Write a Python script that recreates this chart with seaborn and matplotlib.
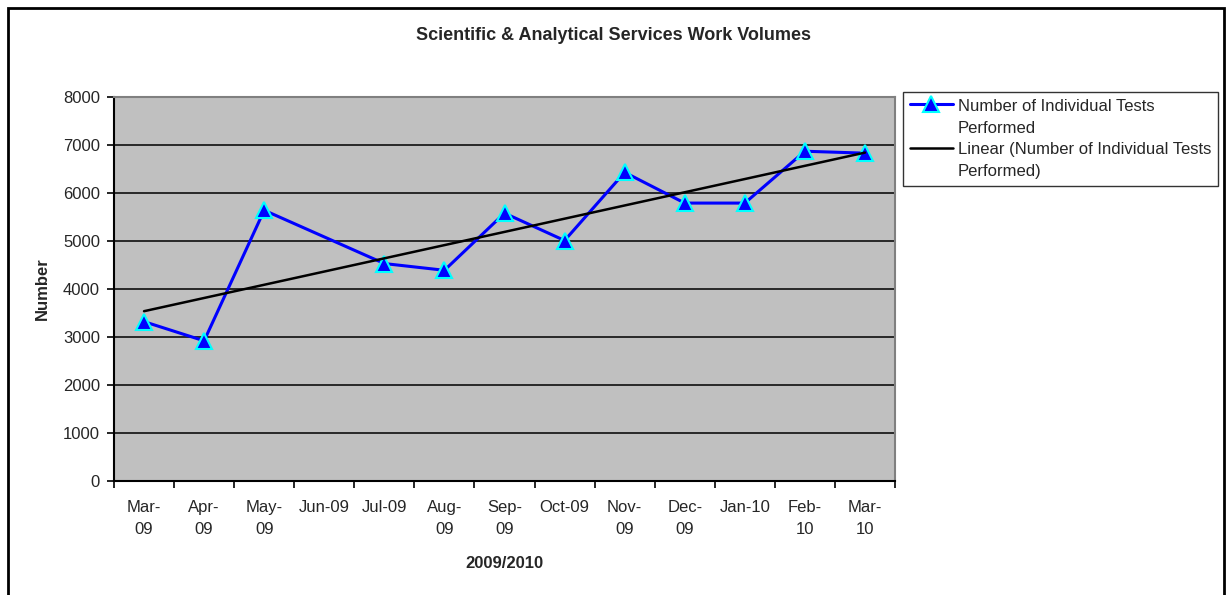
import numpy as np
import pandas as pd
import matplotlib
matplotlib.use("Agg")
import matplotlib.pyplot as plt
from matplotlib.patches import Rectangle
import seaborn as sns

# %%
months = ["Mar-\n09", "Apr-\n09", "May-\n09", "Jun-09", "Jul-09", "Aug-\n09", "Sep-\n09",
          "Oct-09", "Nov-\n09", "Dec-\n09", "Jan-10", "Feb-\n10", "Mar-\n10"]
# Jun-09 has no value in the source chart
tests = [3320, 2920, 5640, np.nan, 4530, 4390, 5580, 5010, 6430, 5790, 5790, 6870, 6830]
yticks = [0, 1000, 2000, 3000, 4000, 5000, 6000, 7000, 8000]

series_label = "Number of Individual Tests\nPerformed"
trend_label = "Linear (Number of Individual Tests\nPerformed)"

df = pd.DataFrame({"pos": range(len(months)), "tests": tests}).dropna()

# %%
sns.set_style("white")
plt.rcParams["font.family"] = ["Liberation Sans", "DejaVu Sans"]
plt.rcParams["font.size"] = 12

W, H = 1227, 595
fig = plt.figure(figsize=(W / 100, H / 100), dpi=100)
ax = fig.add_axes([114 / W, 1 - 481 / H, 781 / W, 384 / H])
ax.set_facecolor("#c0c0c0")

sns.lineplot(data=df, x="pos", y="tests", ax=ax, color="#0000ff", lw=2.2,
             marker="^", markersize=11, markerfacecolor="#0000ff",
             markeredgecolor="#00ffff", markeredgewidth=1.5,
             label=series_label, zorder=3)
sns.regplot(data=df, x="pos", y="tests", ax=ax, scatter=False, ci=None,
            truncate=True, color="black", line_kws={"lw": 1.8, "zorder": 4})
ax.lines[-1].set_label(trend_label)

ax.set_xlim(-0.5, len(months) - 0.5)
ax.set_ylim(0, 8000)
ax.set_yticks(yticks)
ax.set_xticks(range(len(months)), labels=months)
ax.set_xticks(np.arange(-0.5, len(months), 1), minor=True)
for lbl in ax.get_xticklabels():
    lbl.set_linespacing(1.55)

ax.tick_params(axis="x", which="major", length=0, pad=14, labelsize=12)
ax.tick_params(axis="x", which="minor", length=5, width=1.2, color="black",
               direction="out", bottom=True)
ax.tick_params(axis="y", length=5, width=1.2, color="black", direction="out",
               left=True, pad=5, labelsize=12)

ax.yaxis.grid(True, color="black", lw=1.1)
ax.xaxis.grid(False)
ax.set_axisbelow(True)

for side in ["left", "bottom"]:
    ax.spines[side].set_color("black")
    ax.spines[side].set_linewidth(1.5)
for side in ["top", "right"]:
    ax.spines[side].set_color("#808080")
    ax.spines[side].set_linewidth(1.5)

ax.set_xlabel("2009/2010", fontweight="bold", fontsize=12)
ax.set_ylabel("Number", fontweight="bold", fontsize=12)
ax.xaxis.set_label_coords(0.5, -0.195)
ax.yaxis.set_label_coords(-0.082, 0.5)

fig.text(0.5, 1 - 35 / H, "Scientific & Analytical Services Work Volumes",
         ha="center", va="center", fontweight="bold", fontsize=13)

# legend outside, to the right of the plot
handles, labels = ax.get_legend_handles_labels()
ax.get_legend().remove()
leg = fig.legend(handles, labels, loc="upper left",
                 bbox_to_anchor=(903 / W, 1 - 92 / H), borderaxespad=0,
                 frameon=True, fancybox=False, edgecolor="black",
                 handlelength=2.6, handletextpad=0.3, labelspacing=0.35,
                 borderpad=0.4, fontsize=12)
leg.get_frame().set_linewidth(1.0)
for t in leg.get_texts():
    t.set_linespacing(1.6)
for item in leg._legend_handle_box.get_children()[0].get_children():
    item.align = "top"

# outer chart frame
fig.add_artist(Rectangle((8 / W, -0.1), (1224 - 8) / W, 1.1 - 8 / H,
                         transform=fig.transFigure, fill=False,
                         edgecolor="black", lw=2, clip_on=False))

fig.savefig("out.png", dpi=100)
